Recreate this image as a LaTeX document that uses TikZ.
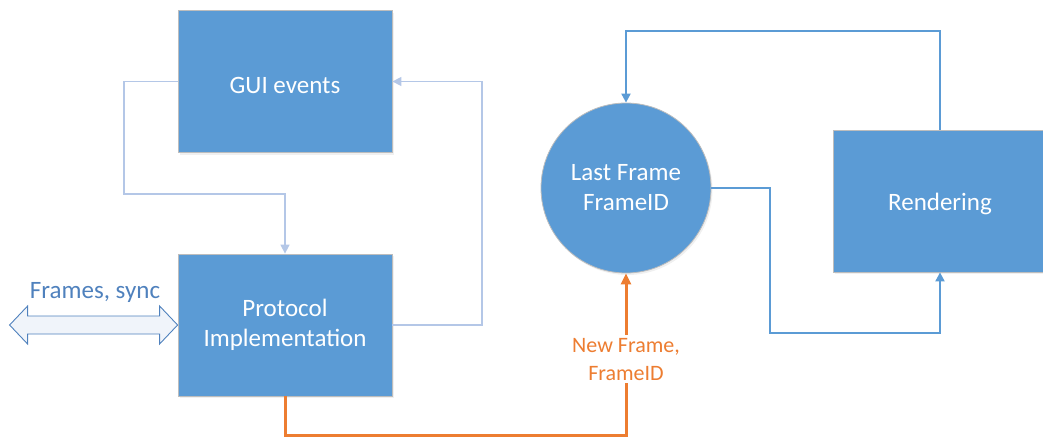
\documentclass[tikz,border=0pt]{standalone}
\usepackage{fontspec}
\setmainfont{Carlito}
\usetikzlibrary{arrows.meta,shadows}
\definecolor{boxblue}{HTML}{5B9BD5}
\definecolor{boxedge}{HTML}{BDBDBD}
\definecolor{paleline}{HTML}{B4C7E7}
\definecolor{orangeline}{HTML}{ED7D31}
\definecolor{labelblue}{HTML}{4F81BD}
\definecolor{arrowfill}{HTML}{F0F4FA}
\begin{document}
\begin{tikzpicture}[x=1pt,y=-1pt,
  block/.style={rectangle, fill=boxblue, draw=boxedge, line width=0.8pt,
    minimum width=214pt, minimum height=142pt, inner sep=0pt,
    text=white, align=center, font=\fontsize{25}{30}\selectfont,
    execute at begin node={\rule{0pt}{24pt}},
    drop shadow={shadow xshift=1.5pt, shadow yshift=-2pt, opacity=0.12}},
  roundblock/.style={block, circle, minimum size=170pt,
    execute at begin node={\rule{0pt}{20pt}}},
  paleconn/.style={draw=paleline, line width=1.5pt, -{Triangle[length=9pt,width=9pt]}},
  blueconn/.style={draw=boxblue, line width=2pt, -{Triangle[length=9pt,width=9pt]}},
  orangeconn/.style={draw=orangeline, line width=3pt, -{Triangle[length=11pt,width=10pt]}},
  flowlabel/.style={fill=white, text=orangeline, align=center, inner sep=3pt,
    font=\fontsize{22}{28}\selectfont},
  sidelabel/.style={text=labelblue, font=\fontsize{25}{30}\selectfont, inner sep=0pt},
  dblarrow/.style={draw=labelblue, line width=0.9pt, fill=arrowfill, line join=miter}
]
\useasboundingbox (0,0) rectangle (1043,437);
\clip (0,0) rectangle (1043,437);

% blocks
\node[block] (gui) at (285,81.5) {GUI events};
\node[block] (proto) at (285,325) {Protocol\\Implementation};
\node[block] (rend) at (940,201) {Rendering};
\node[roundblock] (last) at (626,188) {Last Frame\\FrameID};

% GUI event loop
\draw[paleconn] (gui.west) -| (124,194) -| (proto.north);
\draw[paleconn] (proto.east) -| (482,81.5) -- (gui.east);

% rendering loop
\draw[blueconn] (rend.north) |- (626,31) -- (last.north);
\draw[blueconn] (last.east) -| (770,333) -| (rend.south);

% new frame path
\draw[orangeconn] (proto.south) |- (626,435) --
  node[flowlabel, pos=0.47] (nf) {New Frame,\\FrameID} (last.south);

% external frames / sync link
\draw[dblarrow] (proto.west) -- ++(-18,-19) -- ++(0,10) -- ++(-132,0) -- ++(0,-10)
  -- ++(-18,19) -- ++(18,19) -- ++(0,-10) -- ++(132,0) -- ++(0,10) -- cycle;
\node[sidelabel] (fs) at (95,292) {Frames, sync};
\end{tikzpicture}
\end{document}
